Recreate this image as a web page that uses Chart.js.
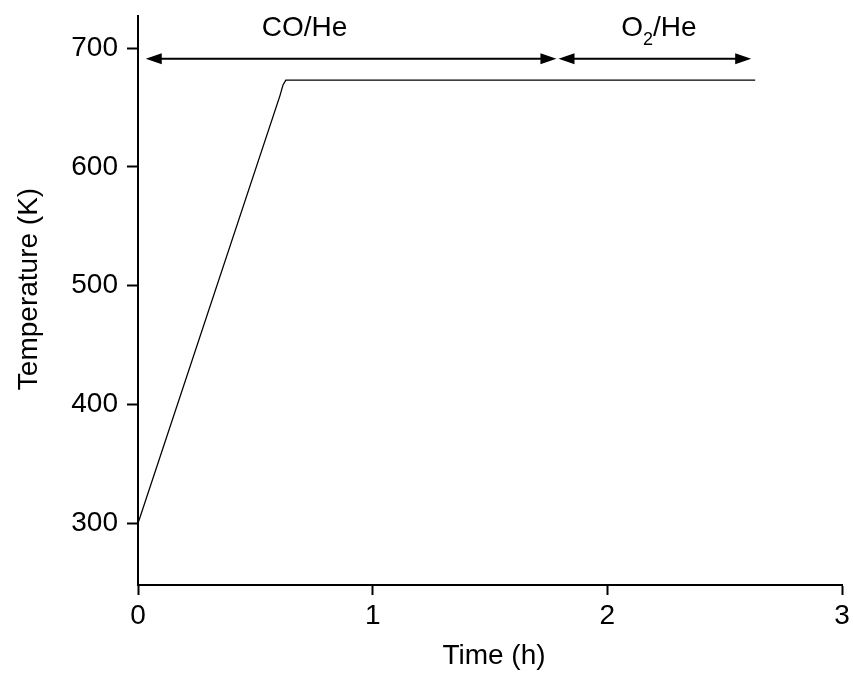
<!DOCTYPE html>
<html>
<head>
<meta charset="utf-8">
<script src="https://cdn.jsdelivr.net/npm/chart.js@4.4.1/dist/chart.umd.min.js"></script>
<style>
html,body{margin:0;padding:0;background:#fff;}
#wrap{width:853px;height:673px;}
</style>
</head>
<body>
<div id="wrap"><canvas id="c" width="853" height="673"></canvas></div>
<script>
// ---- data ----
const timeH = [0, 0.605, 0.618, 0.63, 2.63];
const tempK = [300, 660, 669, 673, 673];
const xTicks = [0, 1, 2, 3];
const yTicks = [300, 400, 500, 600, 700];
const arrowY = 691;
const arrowCO = [0.033, 1.783];
const arrowO2 = [1.792, 2.613];
const labelCO = {text: 'CO/He', x: 0.71, y: 709.8};
const labelO2 = {x: 2.22, y: 709.8};
const xTitle = 'Time (h)';
const yTitle = 'Temperature (K)';

const FONT = '"Liberation Sans", Arial, sans-serif';

function arrowHead(ctx, x, y, dir) {
  const L = 16, W = 5.5;
  ctx.beginPath();
  ctx.moveTo(x, y);
  ctx.lineTo(x - dir * L, y - W);
  ctx.lineTo(x - dir * L, y + W);
  ctx.closePath();
  ctx.fill();
}

const annot = {
  id: 'annot',
  afterDraw(chart) {
    const ctx = chart.ctx;
    const xs = chart.scales.x, ys = chart.scales.y;
    ctx.save();
    ctx.fillStyle = '#000';
    ctx.strokeStyle = '#000';
    ctx.lineWidth = 2;
    const yy = ys.getPixelForValue(arrowY);
    [arrowCO, arrowO2].forEach(a => {
      const x1 = xs.getPixelForValue(a[0]);
      const x2 = xs.getPixelForValue(a[1]);
      ctx.beginPath();
      ctx.moveTo(x1 + 8, yy);
      ctx.lineTo(x2 - 8, yy);
      ctx.stroke();
      arrowHead(ctx, x1, yy, -1);
      arrowHead(ctx, x2, yy, 1);
    });
    // labels
    ctx.textBaseline = 'alphabetic';
    ctx.font = '28px ' + FONT;
    ctx.textAlign = 'center';
    ctx.fillText(labelCO.text, xs.getPixelForValue(labelCO.x), ys.getPixelForValue(labelCO.y));
    // O2/He with subscript
    const big = '28px ' + FONT, small = '18px ' + FONT;
    ctx.font = big; const wO = ctx.measureText('O').width; const wHe = ctx.measureText('/He').width;
    ctx.font = small; const w2 = ctx.measureText('2').width;
    const total = wO + w2 + wHe;
    let sx = xs.getPixelForValue(labelO2.x) - total / 2;
    const by = ys.getPixelForValue(labelO2.y);
    ctx.textAlign = 'left';
    ctx.font = big; ctx.fillText('O', sx, by); sx += wO;
    ctx.font = small; ctx.fillText('2', sx, by + 9); sx += w2;
    ctx.font = big; ctx.fillText('/He', sx, by);
    // axis titles
    ctx.font = '28px ' + FONT;
    ctx.textAlign = 'center';
    ctx.fillText(xTitle, 494, 664);
    ctx.save();
    ctx.translate(37, 289);
    ctx.rotate(-Math.PI / 2);
    ctx.fillText(yTitle, 0, 0);
    ctx.restore();
    ctx.restore();
  }
};

const points = timeH.map((t, i) => ({x: t, y: tempK[i]}));

new Chart(document.getElementById('c'), {
  type: 'line',
  data: {
    datasets: [{
      data: points,
      borderColor: '#000',
      borderWidth: 1.3,
      pointRadius: 0,
      tension: 0,
      fill: false
    }]
  },
  options: {
    responsive: false,
    devicePixelRatio: 1,
    animation: false,
    layout: {padding: {top: 16, right: 11, left: 0, bottom: 0}},
    plugins: {legend: {display: false}, tooltip: {enabled: false}},
    scales: {
      x: {
        type: 'linear',
        min: 0, max: 3,
        afterFit(s) { s.height = 88; s.paddingLeft = 0; s.paddingRight = 0; },
        afterBuildTicks(s) { s.ticks = xTicks.map(v => ({value: v})); },
        border: {display: true, color: '#000', width: 2},
        grid: {drawOnChartArea: false, drawTicks: true, tickLength: 10, tickWidth: 2, tickColor: '#000'},
        ticks: {color: '#000', font: {family: FONT, size: 28}, padding: 4, maxRotation: 0}
      },
      y: {
        type: 'linear',
        min: 248, max: 727,
        afterFit(s) { s.width = 138; s.paddingTop = 0; s.paddingBottom = 0; },
        afterBuildTicks(s) { s.ticks = yTicks.map(v => ({value: v})); },
        border: {display: true, color: '#000', width: 2},
        grid: {drawOnChartArea: false, drawTicks: true, tickLength: 11, tickWidth: 2, tickColor: '#000'},
        ticks: {color: '#000', font: {family: FONT, size: 28}, padding: 9}
      }
    }
  },
  plugins: [annot]
});
</script>
</body>
</html>
